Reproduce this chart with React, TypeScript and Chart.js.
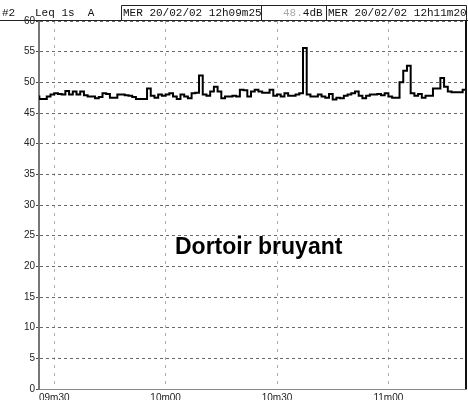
import React, { useEffect, useRef } from "react";
import { Chart, registerables } from "chart.js";

Chart.register(...registerables);

// Time axis: seconds after 12h09m00 (1 s Leq samples)
const firstSecond = 25;
const leqValues = [
  47.7, 47.3, 47.3, 47.7, 48.0, 48.2, 48.1, 48.0, 48.6, 48.0,
  48.5, 48.0, 48.5, 47.9, 47.7, 47.7, 47.4, 47.6, 48.2, 48.1,
  47.5, 47.5, 48.0, 48.0, 47.9, 47.8, 47.6, 47.3, 47.3, 47.3,
  49.0, 47.8, 47.5, 48.0, 47.8, 48.0, 48.2, 47.7, 47.3, 48.0,
  47.7, 47.4, 48.2, 48.3, 51.1, 48.0, 47.8, 48.5, 49.3, 48.5,
  47.4, 47.7, 47.7, 47.8, 47.7, 48.8, 48.7, 47.7, 48.5, 48.8,
  48.5, 48.3, 48.3, 48.8, 47.8, 48.0, 47.7, 48.2, 47.8, 47.8,
  48.0, 48.2, 55.6, 48.0, 47.7, 47.7, 48.0, 47.7, 47.5, 48.1,
  47.2, 47.5, 47.4, 47.8, 48.0, 48.2, 48.5, 47.8, 47.4, 47.8,
  48.0, 48.0, 48.1, 47.9, 48.2, 47.7, 47.5, 47.5, 50.0, 51.9,
  52.7, 48.2, 47.8, 48.1, 47.5, 47.8, 47.8, 49.0, 49.0, 50.7,
  49.3, 48.5, 48.4, 48.4, 48.4, 48.8, 48.8,
];

const xMin = 25.9;
const xMax = 140.9;
const xTickValues = [30, 60, 90, 120];
const xTickLabels = ["09m30", "10m00", "10m30", "11m00"];
const yTickValues = [0, 5, 10, 15, 20, 25, 30, 35, 40, 45, 50, 55, 60];

const headerChannel = "#2   Leq 1s  A";
const headerStart = "MER 20/02/02 12h09m25";
const headerLevelFaint = "48.";
const headerLevel = "4dB";
const headerEnd = "MER 20/02/02 12h11m20";
const chartTitle = "Dortoir bruyant";

const decorPlugin = {
  id: "decor",
  afterDraw(chart: any) {
    const { ctx, chartArea } = chart;
    const W = chart.width;
    ctx.save();
    // right frame
    ctx.strokeStyle = "#111";
    ctx.lineWidth = 2;
    ctx.beginPath();
    ctx.moveTo(chartArea.right, chartArea.top);
    ctx.lineTo(chartArea.right, chartArea.bottom);
    ctx.stroke();
    // header line
    ctx.lineWidth = 1;
    ctx.strokeStyle = "#222";
    ctx.beginPath();
    ctx.moveTo(0, chartArea.top - 0.5);
    ctx.lineTo(W, chartArea.top - 0.5);
    ctx.stroke();
    // header boxes
    ctx.beginPath();
    ctx.moveTo(121.5, 5.5);
    ctx.lineTo(W - 1.5, 5.5);
    ctx.moveTo(121.5, 5.5);
    ctx.lineTo(121.5, chartArea.top);
    ctx.moveTo(261.5, 5.5);
    ctx.lineTo(261.5, chartArea.top);
    ctx.moveTo(326.5, 5.5);
    ctx.lineTo(326.5, chartArea.top);
    ctx.moveTo(W - 1.5, 5.5);
    ctx.lineTo(W - 1.5, chartArea.top);
    ctx.stroke();
    // header text
    ctx.font = '11px "Liberation Mono"';
    ctx.textBaseline = "alphabetic";
    ctx.textAlign = "left";
    ctx.fillStyle = "#111";
    ctx.fillText(headerChannel, 2, 16);
    ctx.fillText(headerStart, 123, 16);
    ctx.fillStyle = "#aaa";
    ctx.fillText(headerLevelFaint, 283, 16);
    const fw = ctx.measureText(headerLevelFaint).width;
    ctx.fillStyle = "#111";
    ctx.fillText(headerLevel, 283 + fw, 16);
    ctx.fillText(headerEnd, 328, 16);
    // title
    ctx.font = 'bold 23px "Liberation Sans"';
    ctx.fillStyle = "#000";
    ctx.fillText(chartTitle, 175, 254);
    ctx.restore();
  },
};

export default function App() {
  const canvasRef = useRef<HTMLCanvasElement>(null);

  useEffect(() => {
    if (!canvasRef.current) return;
    const points = leqValues.map((v, i) => ({ x: firstSecond + i, y: v }));
    const tickFont = { family: '"Liberation Sans", Arial, sans-serif', size: 10 };
    const chart = new Chart(canvasRef.current, {
      type: "line",
      data: {
        datasets: [
          {
            data: points,
            borderColor: "#000",
            borderWidth: 2,
            pointRadius: 0,
            stepped: "before",
            fill: false,
            tension: 0,
          },
        ],
      },
      options: {
        animation: false,
        responsive: false,
        events: [],
        layout: { padding: { top: 21, right: 2, left: 0, bottom: 0 } },
        plugins: {
          legend: { display: false },
          tooltip: { enabled: false },
          title: { display: false },
        },
        scales: {
          x: {
            type: "linear",
            min: xMin,
            max: xMax,
            afterBuildTicks: (scale: any) => {
              scale.ticks = xTickValues.map((v) => ({ value: v }));
            },
            afterFit: (scale: any) => {
              scale.height = 11;
            },
            ticks: {
              autoSkip: false,
              maxRotation: 0,
              padding: 3,
              color: "#222",
              font: tickFont,
              callback: (v: any) => {
                const i = xTickValues.indexOf(Number(v));
                return i >= 0 ? xTickLabels[i] : "";
              },
            },
            grid: { color: "#b0b0b0", lineWidth: 1, drawTicks: false },
            border: { display: true, color: "#888", width: 1, dash: [3, 5] },
          },
          y: {
            type: "linear",
            min: 0,
            max: 60,
            afterBuildTicks: (scale: any) => {
              scale.ticks = yTickValues.map((v) => ({ value: v }));
            },
            afterFit: (scale: any) => {
              scale.width = 39;
            },
            ticks: {
              padding: 1,
              color: "#222",
              font: tickFont,
              callback: (v: any) => String(v),
            },
            grid: {
              color: "#6a6a6a",
              lineWidth: 1,
              drawTicks: true,
              tickLength: 3,
              tickColor: "#444",
            },
            border: { display: true, color: "#777", width: 2, dash: [3, 3] },
          },
        },
      },
      plugins: [decorPlugin],
    } as any);
    return () => chart.destroy();
  }, []);

  return (
    <div style={{ position: "absolute", left: 0, top: 0, width: 468, height: 400, background: "#fff" }}>
      <canvas ref={canvasRef} width={468} height={400} />
    </div>
  );
}
